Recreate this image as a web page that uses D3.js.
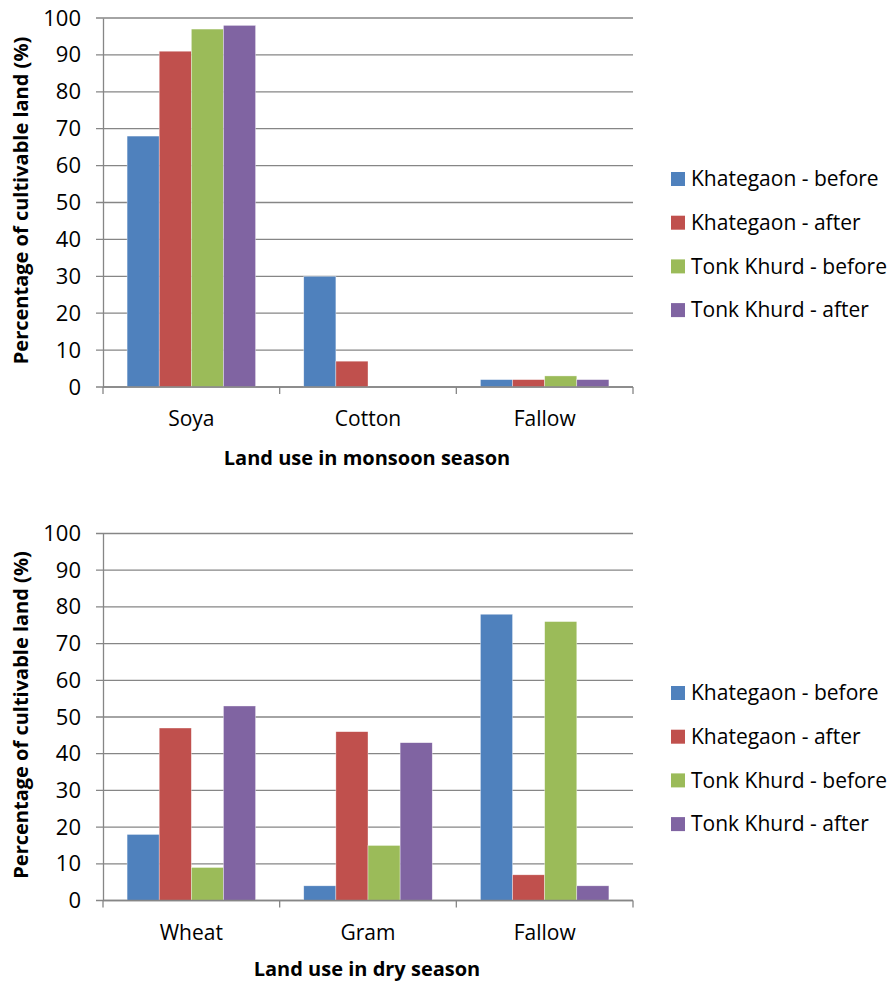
<!DOCTYPE html>
<html>
<head>
<meta charset="utf-8">
<script src="https://cdn.jsdelivr.net/npm/d3@7"></script>
<style>
  body { margin: 0; background: #fff; }
  svg { display: block; font-family: "Open Sans", sans-serif; }
</style>
</head>
<body>
<svg id="chart" width="890" height="983"></svg>
<script>
// Series and colours
const series = ["Khategaon - before", "Khategaon - after", "Tonk Khurd - before", "Tonk Khurd - after"];
const colors = ["#4F81BD", "#C0504D", "#9BBB59", "#8064A2"];
const yTicks = [0, 10, 20, 30, 40, 50, 60, 70, 80, 90, 100];

// Monsoon season
const monsoonCategories = ["Soya", "Cotton", "Fallow"];
const monsoonValues = [
    [68, 30, 2],   // Khategaon - before
    [91, 7, 2],    // Khategaon - after
    [97, 0, 3],    // Tonk Khurd - before
    [98, 0, 2]     // Tonk Khurd - after
];

// Dry season
const dryCategories = ["Wheat", "Gram", "Fallow"];
const dryValues = [
    [18, 4, 78],
    [47, 46, 7],
    [9, 15, 76],
    [53, 43, 4]
];

const svg = d3.select("#chart");
const gridColor = "#868686";

function drawChart(categories, values, top, bottom, xTitle, titleOffset, legendTop) {
    const left = 103, right = 633;
    const g = svg.append("g");

    const y = d3.scaleLinear().domain([0, 100]).range([bottom, top]);
    const x = d3.scaleBand().domain(categories).range([left, right]).padding(0);
    const xs = d3.scaleBand().domain(series).range([0, x.bandwidth()])
        .paddingInner(0).paddingOuter(0.75);

    // gridlines
    g.selectAll("line.grid").data(yTicks).enter().append("line")
        .attr("class", "grid")
        .attr("x1", left - 7).attr("x2", right)
        .attr("y1", d => y(d)).attr("y2", d => y(d))
        .attr("stroke", gridColor).attr("stroke-width", 1.3);

    // y axis
    const yAxis = g.append("g")
        .attr("transform", `translate(${left},0)`)
        .call(d3.axisLeft(y).tickValues(yTicks).tickSize(7).tickSizeOuter(0).tickPadding(15));
    yAxis.select(".domain").attr("stroke", gridColor).attr("stroke-width", 1.3);
    yAxis.selectAll(".tick line").attr("stroke", "none");
    yAxis.selectAll("text").attr("font-size", 22).attr("fill", "#000")
        .attr("font-family", "Open Sans, sans-serif");

    // bars
    series.forEach((s, i) => {
        g.selectAll(`rect.s${i}`).data(categories).enter().append("rect")
            .attr("class", `s${i}`)
            .attr("x", (c) => x(c) + xs(s))
            .attr("width", xs.bandwidth())
            .attr("y", (c, j) => y(values[i][j]))
            .attr("height", (c, j) => y(0) - y(values[i][j]))
            .attr("fill", colors[i])
            .attr("stroke", "#fff").attr("stroke-width", 0.6).attr("stroke-opacity", 0.6);
    });

    // x axis line and boundary ticks
    g.append("line")
        .attr("x1", left).attr("x2", right)
        .attr("y1", bottom).attr("y2", bottom)
        .attr("stroke", gridColor).attr("stroke-width", 1.3);
    const bounds = categories.map(c => x(c)).concat([right]);
    g.selectAll("line.xt").data(bounds).enter().append("line")
        .attr("class", "xt")
        .attr("x1", d => d).attr("x2", d => d)
        .attr("y1", bottom).attr("y2", bottom + 7)
        .attr("stroke", gridColor).attr("stroke-width", 1.3);

    // category labels
    g.selectAll("text.cat").data(categories).enter().append("text")
        .attr("class", "cat")
        .attr("x", c => x(c) + x.bandwidth() / 2)
        .attr("y", bottom + 39)
        .attr("text-anchor", "middle")
        .attr("font-size", 21)
        .text(c => c);

    // axis titles
    g.append("text")
        .attr("x", (left + right) / 2 - 1)
        .attr("y", bottom + titleOffset)
        .attr("text-anchor", "middle")
        .attr("font-size", 20).attr("font-weight", "bold")
        .text(xTitle);

    g.append("text")
        .attr("transform", `translate(28,${(top + bottom) / 2 - 2}) rotate(-90)`)
        .attr("text-anchor", "middle")
        .attr("font-size", 20).attr("font-weight", "bold")
        .text("Percentage of cultivable land (%)");

    // legend
    const legend = g.selectAll("g.leg").data(series).enter().append("g")
        .attr("class", "leg")
        .attr("transform", (d, i) => `translate(671,${legendTop + i * 43.7})`);
    legend.append("rect")
        .attr("x", 0).attr("y", -7).attr("width", 14).attr("height", 14)
        .attr("fill", (d, i) => colors[i]);
    legend.append("text")
        .attr("x", 20).attr("y", 0)
        .attr("dy", "0.35em")
        .attr("font-size", 21)
        .text(d => d);
}

drawChart(monsoonCategories, monsoonValues, 18, 387, "Land use in monsoon season", 78, 179);
drawChart(dryCategories, dryValues, 533.5, 900.5, "Land use in dry season", 75, 693);
</script>
</body>
</html>
